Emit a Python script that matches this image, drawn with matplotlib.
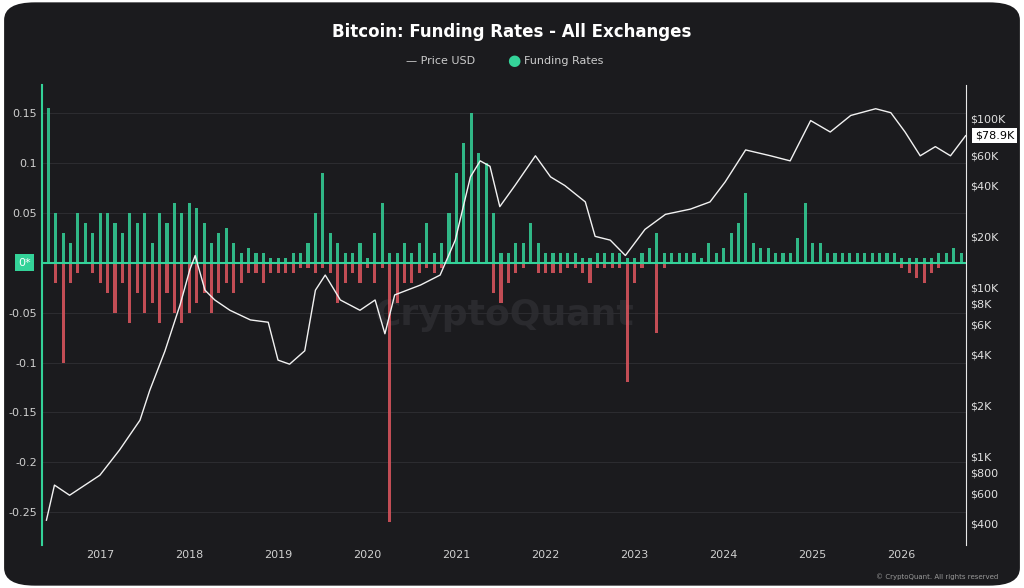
import matplotlib
matplotlib.use("Agg")
import matplotlib.pyplot as plt
import numpy as np
from matplotlib.patches import FancyBboxPatch
from matplotlib.ticker import FixedLocator, NullLocator

price_years = [2016.40,2016.49,2016.66,2017.00,2017.22,2017.45,2017.56,2017.73,2017.90,2018.01,2018.07,
               2018.18,2018.29,2018.46,2018.69,2018.89,2019.00,2019.13,2019.30,2019.42,2019.53,2019.70,
               2019.92,2020.09,2020.20,2020.31,2020.60,2020.82,2020.99,2021.16,2021.27,2021.38,2021.49,
               2021.66,2021.89,2022.06,2022.22,2022.45,2022.56,2022.73,2022.90,2023.12,2023.35,2023.63,
               2023.85,2024.02,2024.25,2024.53,2024.75,2024.98,2025.20,2025.43,2025.71,2025.88,2026.04,
               2026.21,2026.38,2026.55,2026.72]
price_usd = [417,673,586,770,1085,1630,2450,4180,7850,12700,15400,9600,8400,7300,6400,6200,3700,3500,
             4200,9600,11800,8400,7300,8400,5300,9000,10300,11800,19000,45000,56000,52000,30000,40000,
             60000,45000,40000,32000,20000,19000,15400,22000,27000,29000,32000,42000,65000,60000,56000,
             97000,83000,104000,114000,108000,83000,60000,68000,60000,78900]

fund_start = 2016.42
funding_pos = [0.155,0.05,0.03,0.02,0.05,0.04,0.03,0.05,
    0.05,0.04,0.03,0.05,0.04,0.05,0.02,0.05,0.04,0.06,0.05,0.06,
    0.055,0.04,0.02,0.03,0.035,0.02,0.01,0.015,0.01,0.01,0.005,0.005,
    0.005,0.01,0.01,0.02,0.05,0.09,0.03,0.02,0.01,0.01,0.02,0.005,
    0.03,0.06,0.01,0.01,0.02,0.01,0.02,0.04,0.01,0.02,0.05,0.09,
    0.12,0.15,0.11,0.10,0.05,0.01,0.01,0.02,0.02,0.04,0.02,0.01,
    0.01,0.01,0.01,0.01,0.005,0.005,0.01,0.01,0.01,0.01,0.005,0.005,
    0.01,0.015,0.03,0.01,0.01,0.01,0.01,0.01,0.005,0.02,0.01,0.015,
    0.03,0.04,0.07,0.02,0.015,0.015,0.01,0.01,0.01,0.025,0.06,0.02,
    0.02,0.01,0.01,0.01,0.01,0.01,0.01,0.01,0.01,0.01,0.01,0.005,
    0.005,0.005,0.005,0.005,0.01,0.01,0.015,0.01]
funding_neg = [0,-0.02,-0.1,-0.02,-0.01,0,-0.01,-0.02,
    -0.03,-0.05,-0.02,-0.06,-0.03,-0.05,-0.04,-0.06,-0.03,-0.05,-0.06,-0.05,
    -0.04,-0.03,-0.05,-0.03,-0.02,-0.03,-0.02,-0.01,-0.01,-0.02,-0.01,-0.01,
    -0.01,-0.01,-0.005,-0.005,-0.01,-0.005,-0.01,-0.04,-0.02,-0.01,-0.02,-0.005,
    -0.02,-0.005,-0.26,-0.04,-0.02,-0.02,-0.01,-0.005,-0.01,-0.005,0,0,
    0,0,0,0,-0.03,-0.04,-0.02,-0.01,-0.005,0,-0.01,-0.01,
    -0.01,-0.01,-0.005,-0.005,-0.01,-0.02,-0.005,-0.005,-0.005,-0.005,-0.12,-0.02,
    -0.005,0,-0.07,-0.005,0,0,0,0,0,0,0,0,
    0,0,0,0,0,0,0,0,0,0,0,0,
    0,0,0,0,0,0,0,0,0,0,0,-0.005,
    -0.01,-0.015,-0.02,-0.01,-0.005,0,0,0]

left_ticks = [0.15,0.1,0.05,-0.05,-0.1,-0.15,-0.2,-0.25]
left_labels = ["0.15","0.1","0.05","-0.05","-0.1","-0.15","-0.2","-0.25"]
right_ticks = [100000,60000,40000,20000,10000,8000,6000,4000,2000,1000,800,600,400]
right_labels = ["$100K","$60K","$40K","$20K","$10K","$8K","$6K","$4K","$2K","$1K","$800","$600","$400"]
year_ticks = list(range(2017, 2027))

BG = "#1b1b1e"
GREEN = "#34d399"
RED = "#e0565f"

fig = plt.figure(figsize=(10.24, 5.88), dpi=100)
fig.patch.set_facecolor("white")
fig.patches.append(FancyBboxPatch((0.004, 0.004), 0.992, 0.992, boxstyle="round,pad=0,rounding_size=0.03",
                                  transform=fig.transFigure, facecolor=BG, edgecolor="none", zorder=-10))

ax = fig.add_axes([0.041, 0.073, 0.902, 0.782])
ax.set_facecolor(BG)
ax.set_xlim(2016.35, 2026.72)
ax.set_ylim(-0.283, 0.178)
xs = fund_start + np.arange(len(funding_pos)) / 12.0
ax.bar(xs, funding_pos, width=0.035, color=GREEN, alpha=0.85, zorder=2)
ax.bar(xs, funding_neg, width=0.035, color=RED, alpha=0.85, zorder=2)
ax.axhline(0, color=GREEN, lw=1.5, zorder=3)
ax.set_yticks(left_ticks)
ax.set_yticklabels(left_labels)
ax.grid(axis="y", color="#2c2c30", lw=0.8)
ax.set_xticks(year_ticks)
ax.set_xticklabels([str(y) for y in year_ticks])
ax.tick_params(colors="#cfcfcf", labelsize=8, length=0)
for s in ["top", "right", "bottom"]:
    ax.spines[s].set_visible(False)
ax.spines["left"].set_color(GREEN)
ax.spines["left"].set_linewidth(1.5)
ax.text(-0.012, 0, "0*", transform=ax.get_yaxis_transform(), ha="right", va="center", fontsize=8,
        color="white", bbox=dict(boxstyle="square,pad=0.3", fc=GREEN, ec="none"))

ax2 = ax.twinx()
ax2.set_yscale("log")
ax2.set_ylim(297, 157000)
ax2.plot(price_years, price_usd, color="#f2f2f2", lw=1.0, zorder=4)
ax2.yaxis.set_major_locator(FixedLocator(right_ticks))
ax2.yaxis.set_minor_locator(NullLocator())
ax2.set_yticklabels(right_labels)
ax2.tick_params(colors="#e0e0e0", labelsize=8, length=0)
for s in ["top", "left", "bottom"]:
    ax2.spines[s].set_visible(False)
ax2.spines["right"].set_color("#e8e8e8")
ax2.text(1.01, 78900, "$78.9K", transform=ax2.get_yaxis_transform(), ha="left", va="center", fontsize=8,
         color="black", bbox=dict(boxstyle="square,pad=0.25", fc="white", ec="none"))

ax.text(0.5, 0.5, "CryptoQuant", transform=ax.transAxes, ha="center", va="center", fontsize=26,
        color="#2a2a2e", fontweight="bold", zorder=1)

fig.text(0.5, 0.945, "Bitcoin: Funding Rates - All Exchanges", ha="center", va="center", fontsize=12,
         fontweight="bold", color="white")
fig.text(0.43, 0.897, "— Price USD", ha="center", va="center", fontsize=8, color="#cccccc")
fig.text(0.502, 0.897, "●", ha="center", va="center", fontsize=11, color=GREEN)
fig.text(0.512, 0.897, "Funding Rates", ha="left", va="center", fontsize=8, color="#cccccc")
fig.text(0.975, 0.02, "© CryptoQuant. All rights reserved", ha="right", va="center", fontsize=5, color="#999999")

fig.savefig("out.png", dpi=100, facecolor=fig.get_facecolor())
